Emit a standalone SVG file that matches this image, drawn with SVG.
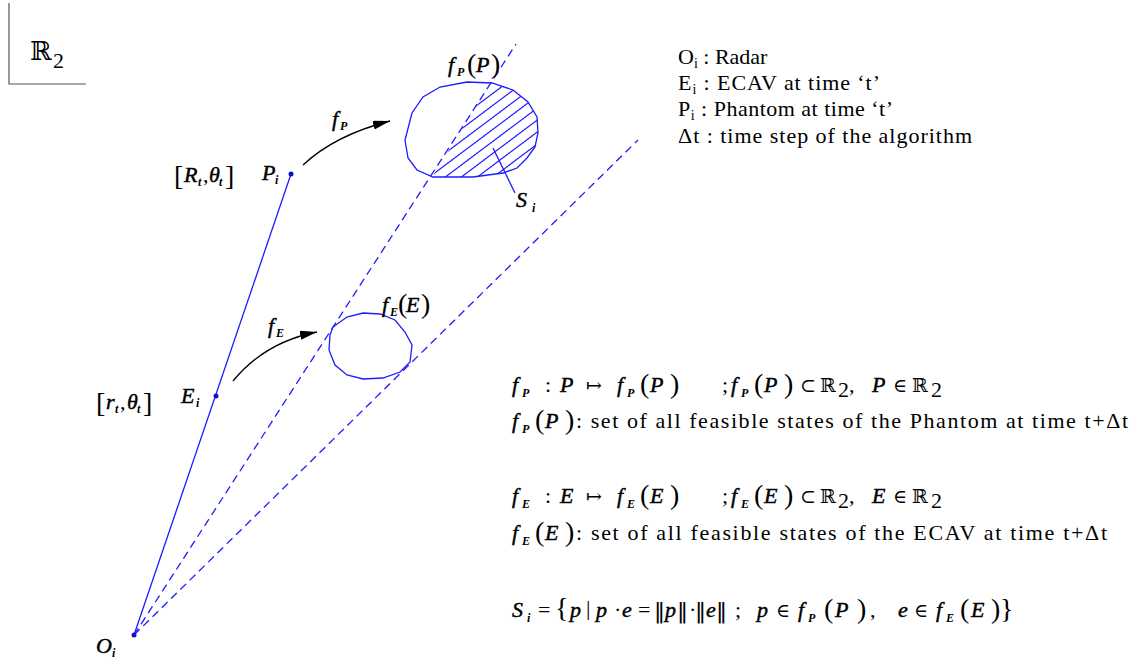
<svg xmlns="http://www.w3.org/2000/svg" width="1140" height="662" viewBox="0 0 1140 662">
<style>
.t{font-family:"Liberation Serif","DejaVu Serif",serif;fill:#000;font-size:22px}
.mi{font-family:"Liberation Serif","DejaVu Serif",serif;font-style:italic;fill:#000;stroke:#000;stroke-width:0.45;font-size:22px}
.sb{font-family:"Liberation Serif","DejaVu Serif",serif;font-style:italic;font-weight:bold;fill:#000;font-size:12px}
.pr{font-family:"Liberation Serif","DejaVu Serif",serif;fill:#000;font-size:28px}
.sy{font-family:"DejaVu Serif","Liberation Serif",serif;fill:#000;font-size:19px}
.nb{font-family:"DejaVu Sans","Liberation Sans",sans-serif;fill:#000;font-size:22px}
.lg{font-family:"Liberation Serif","DejaVu Serif",serif;fill:#000;font-size:22px}
.ls{font-family:"Liberation Serif","DejaVu Serif",serif;fill:#000;font-size:14px}
.bl{stroke:#1c1cff;stroke-width:1.3;fill:none}
.dash{stroke:#1c1cff;stroke-width:1.3;fill:none;stroke-dasharray:8 5}
.arr{stroke:#000;stroke-width:1.3;fill:none;marker-end:url(#ah)}
.dot{fill:#1010cc}
</style>
<defs>
<marker id="ah" markerUnits="userSpaceOnUse" markerWidth="18" markerHeight="10" refX="17" refY="4.5" orient="auto">
<path d="M0,0 L17,4.5 L0,9 Z" fill="#000"/>
</marker>
<clipPath id="hc">
<polygon points="491,83 513,90 528,102 537,117 538,133 535,147 527,158 517,168 503,173 473,177 432,177"/>
</clipPath>
</defs>

<g id="frame">
<path d="M9,3 V84 H86" stroke="#555" stroke-width="1.2" fill="none"/>
<text x="30" y="60" font-family="DejaVu Serif,serif" font-size="26">ℝ</text>
<text x="53" y="68" class="t" font-size="17px">2</text>
</g>

<g id="connectors">
<line class="bl" x1="134" y1="635" x2="291" y2="174"/>
<line class="dash" x1="134" y1="635" x2="516" y2="44"/>
<line class="dash" x1="134" y1="635" x2="638" y2="140"/>
<path class="arr" d="M303,165 Q335,135 390,121"/>
<path class="arr" d="M233,381 Q265,342 317,332"/>
<line class="bl" x1="493" y1="148" x2="515" y2="193"/>
</g>

<g id="node-fP">
<polygon class="bl" points="405,140 412,113 423,97 440,87 467,82 492,83 513,90 528,102 537,117 538,133 535,147 527,158 517,168 503,173 473,177 433,177 417,170 408,158"/>
<g clip-path="url(#hc)" stroke="#1c1cff" stroke-width="1.2">
<line x1="420" y1="148" x2="560" y2="43"/>
<line x1="420" y1="160" x2="560" y2="55"/>
<line x1="420" y1="172" x2="560" y2="67"/>
<line x1="420" y1="184" x2="560" y2="79"/>
<line x1="420" y1="196" x2="560" y2="91"/>
<line x1="420" y1="208" x2="560" y2="103"/>
<line x1="420" y1="220" x2="560" y2="115"/>
<line x1="420" y1="232" x2="560" y2="127"/>
<line x1="420" y1="244" x2="560" y2="139"/>
</g>
<text class="mi" x="448" y="72" font-size="20px">f</text><text class="sb" x="457" y="76" font-size="11px">P</text><text class="pr" x="467" y="73" font-size="24px">(</text><text class="mi" x="476" y="72" font-size="20px">P</text><text class="pr" x="491" y="73" font-size="24px">)</text>
<text class="mi" x="516" y="207">S</text><text class="sb" x="532" y="212">i</text>
</g>

<g id="node-fE">
<polygon class="bl" points="333,327 347,317 363,313 380,314 395,320 405,332 412,345 410,362 400,372 383,378 363,379 347,375 335,365 329,350 330,335"/>
<text class="mi" x="382" y="312" font-size="20px">f</text><text class="sb" x="390" y="316" font-size="11px">E</text><text class="pr" x="398" y="313" font-size="24px">(</text><text class="mi" x="406" y="312" font-size="20px">E</text><text class="pr" x="421" y="313" font-size="24px">)</text>
</g>

<g id="node-P">
<circle class="dot" cx="291" cy="174" r="2.5"/>
<text class="mi" x="262" y="180" font-size="20px">P</text><text class="sb" x="275" y="184">i</text>
<text class="pr" x="174" y="185" font-size="26px">[</text><text class="mi" x="184" y="182" font-size="20px">R</text><text class="sb" x="198" y="186">t</text><text class="t" x="203" y="182" font-size="20px">,</text><text class="mi" x="209" y="182" font-size="20px">θ</text><text class="sb" x="219" y="186">t</text><text class="pr" x="225" y="185" font-size="26px">]</text>
<text class="mi" x="332" y="126" font-size="20px">f</text><text class="sb" x="340" y="130" font-size="11px">P</text>
</g>

<g id="node-E">
<circle class="dot" cx="216" cy="396" r="2.5"/>
<text class="mi" x="181" y="403" font-size="20px">E</text><text class="sb" x="196" y="407">i</text>
<text class="pr" x="96" y="412" font-size="26px">[</text><text class="mi" x="106" y="409" font-size="20px">r</text><text class="sb" x="115" y="413">t</text><text class="t" x="120" y="409" font-size="20px">,</text><text class="mi" x="127" y="409" font-size="20px">θ</text><text class="sb" x="137" y="413">t</text><text class="pr" x="143" y="412" font-size="26px">]</text>
<text class="mi" x="268" y="333" font-size="20px">f</text><text class="sb" x="276" y="337" font-size="11px">E</text>
</g>

<g id="node-O">
<circle class="dot" cx="134" cy="635" r="2.5"/>
<text class="mi" x="96" y="653" font-size="21px">O</text><text class="sb" x="112" y="657">i</text>
</g>

<g id="legend">
<text class="lg" x="678" y="64">O<tspan class="ls" dy="4">i</tspan><tspan dy="-4"> : Radar</tspan></text>
<text class="lg" x="678" y="90" textLength="202" lengthAdjust="spacing">E<tspan class="ls" dy="4">i</tspan><tspan dy="-4"> : ECAV at time ‘t’</tspan></text>
<text class="lg" x="678" y="116" textLength="215" lengthAdjust="spacing">P<tspan class="ls" dy="4">i</tspan><tspan dy="-4"> : Phantom at time ‘t’</tspan></text>
<text class="lg" x="678" y="143" textLength="294" lengthAdjust="spacing">Δt : time step of the algorithm</text>
</g>

<g id="formula-P">
<text class="mi" x="512" y="392">f</text><text class="sb" x="522" y="397">P</text><text class="t" x="545" y="392">:</text><text class="mi" x="560" y="392">P</text><text class="sy" x="586" y="392">↦</text>
<text class="mi" x="617" y="392">f</text><text class="sb" x="627" y="397">P</text><text class="pr" x="640" y="393">(</text><text class="mi" x="650" y="392">P</text><text class="pr" x="670" y="393">)</text>
<text class="t" x="722" y="392">;</text><text class="mi" x="731" y="392">f</text><text class="sb" x="741" y="397">P</text><text class="pr" x="754" y="393">(</text><text class="mi" x="764" y="392">P</text><text class="pr" x="784" y="393">)</text>
<text class="sy" x="800" y="392">⊂</text><text class="sy" x="820" y="392">ℝ</text><text class="t" x="838" y="397" font-size="14px">2</text><text class="t" x="849" y="392">,</text>
<text class="mi" x="872" y="392">P</text><text class="sy" x="893" y="392">∈</text><text class="sy" x="912" y="392">ℝ</text><text class="t" x="931" y="397" font-size="14px">2</text>
<text class="mi" x="512" y="428">f</text><text class="sb" x="522" y="433">P</text><text class="pr" x="535" y="429">(</text><text class="mi" x="545" y="428">P</text><text class="pr" x="565" y="429">)</text>
<text class="t" x="576" y="428" textLength="552" lengthAdjust="spacing">: set of all feasible states of the Phantom at time t+Δt</text>
</g>

<g id="formula-E">
<text class="mi" x="512" y="503">f</text><text class="sb" x="522" y="508">E</text><text class="t" x="545" y="503">:</text><text class="mi" x="560" y="503">E</text><text class="sy" x="586" y="503">↦</text>
<text class="mi" x="617" y="503">f</text><text class="sb" x="627" y="508">E</text><text class="pr" x="640" y="504">(</text><text class="mi" x="650" y="503">E</text><text class="pr" x="670" y="504">)</text>
<text class="t" x="722" y="503">;</text><text class="mi" x="731" y="503">f</text><text class="sb" x="741" y="508">E</text><text class="pr" x="754" y="504">(</text><text class="mi" x="764" y="503">E</text><text class="pr" x="784" y="504">)</text>
<text class="sy" x="800" y="503">⊂</text><text class="sy" x="820" y="503">ℝ</text><text class="t" x="838" y="508" font-size="14px">2</text><text class="t" x="849" y="503">,</text>
<text class="mi" x="872" y="503">E</text><text class="sy" x="893" y="503">∈</text><text class="sy" x="912" y="503">ℝ</text><text class="t" x="931" y="508" font-size="14px">2</text>
<text class="mi" x="512" y="540">f</text><text class="sb" x="522" y="545">E</text><text class="pr" x="535" y="541">(</text><text class="mi" x="545" y="540">E</text><text class="pr" x="565" y="541">)</text>
<text class="t" x="576" y="540" textLength="531" lengthAdjust="spacing">: set of all feasible states of the ECAV at time t+Δt</text>
</g>

<g id="formula-S">
<text class="mi" x="512" y="617" font-size="24px">S</text><text class="sb" x="527" y="622" font-size="13px">i</text>
<text class="t" x="538" y="617">=</text><text class="pr" x="555" y="617">{</text><text class="mi" x="570" y="617">p</text><text class="t" x="586" y="615" font-size="16px">|</text><text class="mi" x="596" y="617">p</text><text class="t" x="614" y="617">·</text><text class="mi" x="622" y="617">e</text><text class="t" x="638" y="617">=</text>
<text class="nb" x="654" y="618">‖</text><text class="mi" x="665" y="617">p</text><text class="nb" x="677" y="618">‖</text><text class="t" x="689" y="617">·</text><text class="nb" x="695" y="618">‖</text><text class="mi" x="706" y="617">e</text><text class="nb" x="716" y="618">‖</text><text class="t" x="735" y="617">;</text>
<text class="mi" x="757" y="617">p</text><text class="sy" x="776" y="617">∈</text><text class="mi" x="798" y="617">f</text><text class="sb" x="808" y="622">P</text><text class="pr" x="824" y="618">(</text><text class="mi" x="835" y="617">P</text><text class="pr" x="857" y="618">)</text><text class="t" x="870" y="617">,</text>
<text class="mi" x="898" y="617">e</text><text class="sy" x="914" y="617">∈</text><text class="mi" x="936" y="617">f</text><text class="sb" x="946" y="622">E</text><text class="pr" x="960" y="618">(</text><text class="mi" x="971" y="617">E</text><text class="pr" x="991" y="618">)</text><text class="pr" x="1000" y="618">}</text>
</g>
</svg>
